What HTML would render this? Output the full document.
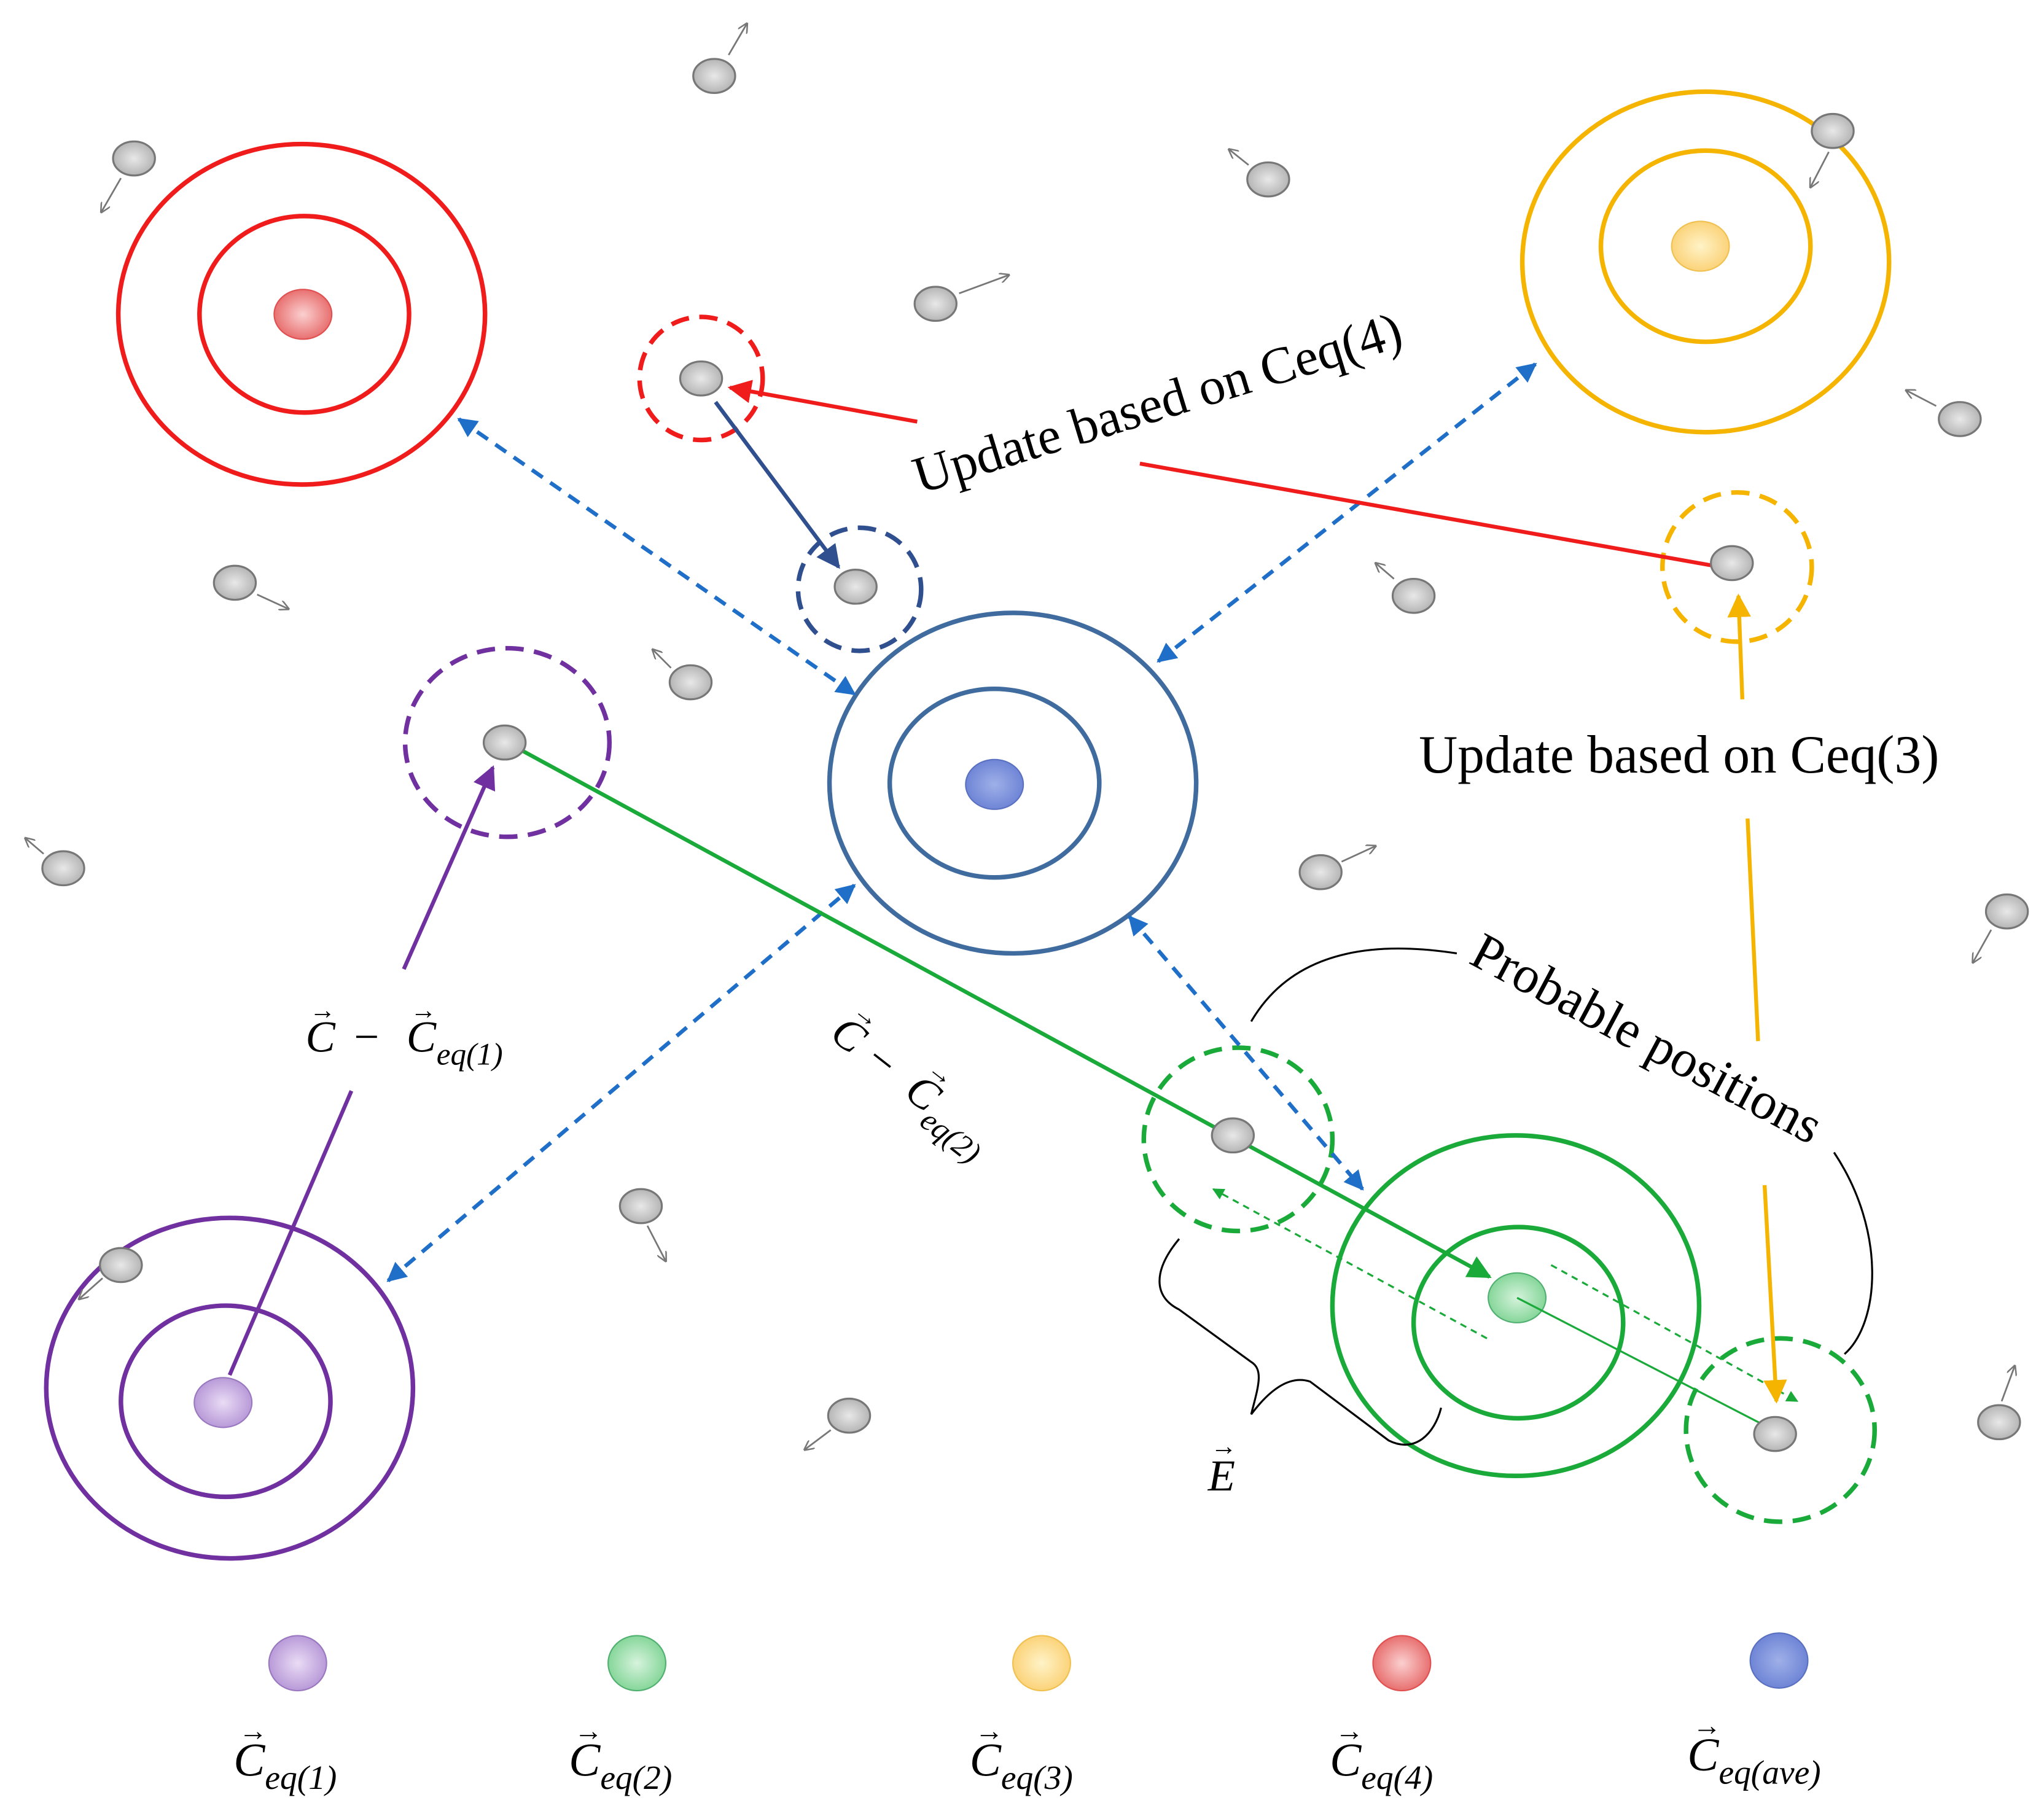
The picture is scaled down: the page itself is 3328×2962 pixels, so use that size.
<!DOCTYPE html>
<html><head><meta charset="utf-8"><style>
html,body{margin:0;padding:0;background:#fff}
svg{display:block}
text{font-family:"Liberation Serif",serif}
</style></head><body>
<svg width="3328" height="2962" viewBox="0 0 1560 1389" xmlns="http://www.w3.org/2000/svg">
<defs>
<radialGradient id="gg"><stop offset="0" stop-color="#e8e8e8"/><stop offset="1" stop-color="#b5b5b5"/></radialGradient>
<radialGradient id="rg"><stop offset="0" stop-color="#fbd0d0"/><stop offset="1" stop-color="#e87070"/></radialGradient>
<radialGradient id="yg"><stop offset="0" stop-color="#fff3c8"/><stop offset="1" stop-color="#fbd37a"/></radialGradient>
<radialGradient id="bg"><stop offset="0" stop-color="#9fb0e8"/><stop offset="1" stop-color="#6f85d6"/></radialGradient>
<radialGradient id="pg"><stop offset="0" stop-color="#eadcf5"/><stop offset="1" stop-color="#b89ad8"/></radialGradient>
<radialGradient id="ng"><stop offset="0" stop-color="#d6f3dc"/><stop offset="1" stop-color="#86d69a"/></radialGradient>
<marker id="ab" viewBox="0 0 10 10" refX="9" refY="5" markerWidth="5" markerHeight="5" orient="auto-start-reverse"><path d="M0,0L10,5L0,10z" fill="#1f6fc8"/></marker>
<marker id="ar" viewBox="0 0 10 10" refX="9" refY="5" markerWidth="6" markerHeight="6" orient="auto"><path d="M0,0L10,5L0,10z" fill="#f01c1c"/></marker>
<marker id="an" viewBox="0 0 10 10" refX="9" refY="5" markerWidth="6" markerHeight="6" orient="auto"><path d="M0,0L10,5L0,10z" fill="#2f4f8f"/></marker>
<marker id="ap" viewBox="0 0 10 10" refX="9" refY="5" markerWidth="6" markerHeight="6" orient="auto"><path d="M0,0L10,5L0,10z" fill="#7030a0"/></marker>
<marker id="ae" viewBox="0 0 10 10" refX="9" refY="5" markerWidth="6" markerHeight="6" orient="auto-start-reverse"><path d="M0,0L10,5L0,10z" fill="#1aaa3a"/></marker>
<marker id="ay" viewBox="0 0 10 10" refX="9" refY="5" markerWidth="6" markerHeight="6" orient="auto"><path d="M0,0L10,5L0,10z" fill="#f5b400"/></marker>
<marker id="ak" viewBox="0 0 10 10" refX="9" refY="5" markerWidth="6" markerHeight="6" orient="auto"><path d="M0,0L10,5L0,10" fill="none" stroke="#777" stroke-width="1.5"/></marker>
</defs>

<g fill="none" stroke-width="3.5">
<ellipse cx="230" cy="240" rx="140" ry="130" stroke="#f01c1c"/>
<ellipse cx="232" cy="240" rx="80" ry="75" stroke="#f01c1c"/>
<ellipse cx="1302" cy="200" rx="140" ry="130" stroke="#f5b400"/>
<ellipse cx="1302" cy="188" rx="80" ry="73" stroke="#f5b400"/>
<ellipse cx="773" cy="598" rx="140" ry="130" stroke="#3f6b9f"/>
<ellipse cx="759" cy="598" rx="80" ry="72" stroke="#3f6b9f"/>
<ellipse cx="175" cy="1060" rx="140" ry="130" stroke="#7030a0"/>
<ellipse cx="172" cy="1070" rx="80" ry="73" stroke="#7030a0"/>
<ellipse cx="1157" cy="997" rx="140" ry="130" stroke="#1aaa3a"/>
<ellipse cx="1159" cy="1010" rx="80" ry="73" stroke="#1aaa3a"/>
</g>
<g stroke-width="1">
<ellipse cx="231" cy="240" rx="22" ry="19" fill="url(#rg)" stroke="#e05050"/>
<ellipse cx="1298" cy="188" rx="22" ry="19" fill="url(#yg)" stroke="#f0c050"/>
<ellipse cx="759" cy="599" rx="22" ry="19" fill="url(#bg)" stroke="#5a70c0"/>
<ellipse cx="170" cy="1071" rx="22" ry="19" fill="url(#pg)" stroke="#9a78c0"/>
<ellipse cx="1158" cy="991" rx="22" ry="19" fill="url(#ng)" stroke="#50b070"/>
</g>

<g fill="none" stroke-width="3.5" stroke-dasharray="14,8">
<circle cx="535" cy="289" r="47" stroke="#f01c1c"/>
<circle cx="656" cy="450" r="47" stroke="#2f4f8f"/>
<ellipse cx="387" cy="567" rx="78" ry="72" stroke="#7030a0"/>
<circle cx="1326" cy="433" r="57" stroke="#f5b400"/>
<ellipse cx="945" cy="870" rx="72" ry="70" stroke="#1aaa3a"/>
<ellipse cx="1359" cy="1092" rx="72" ry="70" stroke="#1aaa3a"/>
</g>

<g stroke="#1f6fc8" stroke-width="3" stroke-dasharray="10,7" marker-start="url(#ab)" marker-end="url(#ab)">
<line x1="350" y1="320" x2="652" y2="530"/>
<line x1="1172" y1="278" x2="884" y2="505"/>
<line x1="296" y1="978" x2="652" y2="676"/>
<line x1="862" y1="700" x2="1040" y2="908"/>
</g>

<line x1="700" y1="322" x2="557" y2="296" stroke="#f01c1c" stroke-width="3" marker-end="url(#ar)"/>
<line x1="870" y1="354" x2="1308" y2="432" stroke="#f01c1c" stroke-width="3"/>
<line x1="546" y1="307" x2="640" y2="433" stroke="#2f4f8f" stroke-width="3" marker-end="url(#an)"/>
<line x1="175" y1="1050" x2="268" y2="833" stroke="#7030a0" stroke-width="3"/>
<line x1="308" y1="740" x2="376" y2="586" stroke="#7030a0" stroke-width="3" marker-end="url(#ap)"/>
<line x1="387" y1="567" x2="1137" y2="975" stroke="#1aaa3a" stroke-width="3" marker-end="url(#ae)"/>
<line x1="1158" y1="991" x2="1350" y2="1090" stroke="#1aaa3a" stroke-width="1.5"/>
<line x1="1135" y1="1022" x2="926" y2="908" stroke="#1aaa3a" stroke-width="1.5" stroke-dasharray="5,4" marker-end="url(#ae)"/>
<line x1="1184" y1="966" x2="1372" y2="1070" stroke="#1aaa3a" stroke-width="1.5" stroke-dasharray="5,4" marker-end="url(#ae)"/>
<line x1="1330" y1="534" x2="1327" y2="455" stroke="#f5b400" stroke-width="3" marker-end="url(#ay)"/>
<line x1="1334" y1="625" x2="1342" y2="795" stroke="#f5b400" stroke-width="3"/>
<line x1="1347" y1="905" x2="1356" y2="1070" stroke="#f5b400" stroke-width="3" marker-end="url(#ay)"/>

<path d="M955,780 C990,720 1060,720 1112,728" fill="none" stroke="#000" stroke-width="1.5"/>
<path d="M1400,880 C1440,940 1435,1010 1408,1034" fill="none" stroke="#000" stroke-width="1.5"/>
<path d="M900,946 C880,970 880,990 900,1000 L955,1040 C965,1046 960,1060 955,1080 C970,1060 985,1050 1000,1055 L1060,1100 C1080,1110 1095,1095 1100,1075" fill="none" stroke="#000" stroke-width="1.5"/>

<g fill="url(#gg)" stroke="#777" stroke-width="1.5">
<ellipse cx="545" cy="58" rx="16" ry="13"/>
<ellipse cx="102" cy="121" rx="16" ry="13"/>
<ellipse cx="968" cy="137" rx="16" ry="13"/>
<ellipse cx="1399" cy="100" rx="16" ry="13"/>
<ellipse cx="714" cy="232" rx="16" ry="13"/>
<ellipse cx="1496" cy="320" rx="16" ry="13"/>
<ellipse cx="535" cy="289" rx="16" ry="13"/>
<ellipse cx="179" cy="445" rx="16" ry="13"/>
<ellipse cx="653" cy="448" rx="16" ry="13"/>
<ellipse cx="1079" cy="455" rx="16" ry="13"/>
<ellipse cx="1322" cy="430" rx="16" ry="13"/>
<ellipse cx="527" cy="521" rx="16" ry="13"/>
<ellipse cx="385" cy="567" rx="16" ry="13"/>
<ellipse cx="48" cy="663" rx="16" ry="13"/>
<ellipse cx="1008" cy="666" rx="16" ry="13"/>
<ellipse cx="1532" cy="696" rx="16" ry="13"/>
<ellipse cx="941" cy="867" rx="16" ry="13"/>
<ellipse cx="489" cy="921" rx="16" ry="13"/>
<ellipse cx="92" cy="966" rx="16" ry="13"/>
<ellipse cx="648" cy="1081" rx="16" ry="13"/>
<ellipse cx="1526" cy="1086" rx="16" ry="13"/>
<ellipse cx="1355" cy="1095" rx="16" ry="13"/>
</g>
<g stroke="#777" stroke-width="1.3" marker-end="url(#ak)">
<line x1="556" y1="42" x2="570" y2="18"/>
<line x1="92" y1="136" x2="77" y2="162"/>
<line x1="953" y1="126" x2="938" y2="114"/>
<line x1="1396" y1="116" x2="1382" y2="143"/>
<line x1="732" y1="224" x2="770" y2="210"/>
<line x1="1478" y1="310" x2="1455" y2="298"/>
<line x1="196" y1="454" x2="220" y2="465"/>
<line x1="1064" y1="442" x2="1050" y2="430"/>
<line x1="512" y1="510" x2="498" y2="496"/>
<line x1="33" y1="652" x2="19" y2="640"/>
<line x1="1024" y1="658" x2="1050" y2="646"/>
<line x1="1520" y1="710" x2="1506" y2="735"/>
<line x1="494" y1="936" x2="508" y2="963"/>
<line x1="78" y1="976" x2="60" y2="992"/>
<line x1="634" y1="1092" x2="614" y2="1107"/>
<line x1="1528" y1="1070" x2="1538" y2="1043"/>
</g>

<text font-size="40" transform="translate(702,377) rotate(-17)">Update based on Ceq(4)</text>
<text x="1083" y="590" font-size="41">Update based on Ceq(3)</text>
<text font-size="40" transform="translate(1120,735) rotate(28)">Probable positions</text>

<g font-size="34" font-style="italic">
<text x="233" y="803">C</text><text x="236" y="778" font-size="20" font-style="normal">→</text>
<text x="270" y="803" font-style="normal">−</text>
<text x="310" y="803">C</text><text x="313" y="778" font-size="20" font-style="normal">→</text>
<text x="333" y="813" font-size="24">eq(1)</text>
</g>
<g font-size="34" font-style="italic" transform="translate(632,792) rotate(38)">
<text x="0" y="0">C</text><text x="3" y="-25" font-size="20" font-style="normal">→</text>
<text x="34" y="0" font-style="normal">−</text>
<text x="72" y="0">C</text><text x="75" y="-25" font-size="20" font-style="normal">→</text>
<text x="95" y="10" font-size="24">eq(2)</text>
</g>
<text x="922" y="1138" font-size="34" font-style="italic">E</text>
<text x="924" y="1111" font-size="20">→</text>

<g stroke-width="1">
<ellipse cx="227" cy="1270" rx="22" ry="21" fill="url(#pg)" stroke="#9a78c0"/>
<ellipse cx="486" cy="1270" rx="22" ry="21" fill="url(#ng)" stroke="#50b070"/>
<ellipse cx="795" cy="1270" rx="22" ry="21" fill="url(#yg)" stroke="#f0c050"/>
<ellipse cx="1070" cy="1270" rx="22" ry="21" fill="url(#rg)" stroke="#e05050"/>
<ellipse cx="1358" cy="1268" rx="22" ry="21" fill="url(#bg)" stroke="#5a70c0"/>
</g>
<g font-size="36" font-style="italic">
<text x="178" y="1356">C</text><text x="182" y="1329" font-size="22" font-style="normal">→</text><text x="202" y="1366" font-size="26">eq(1)</text>
<text x="434" y="1356">C</text><text x="438" y="1329" font-size="22" font-style="normal">→</text><text x="458" y="1366" font-size="26">eq(2)</text>
<text x="740" y="1356">C</text><text x="744" y="1329" font-size="22" font-style="normal">→</text><text x="764" y="1366" font-size="26">eq(3)</text>
<text x="1015" y="1356">C</text><text x="1019" y="1329" font-size="22" font-style="normal">→</text><text x="1039" y="1366" font-size="26">eq(4)</text>
<text x="1288" y="1352">C</text><text x="1292" y="1325" font-size="22" font-style="normal">→</text><text x="1312" y="1362" font-size="26">eq(ave)</text>
</g>
</svg>
</body></html>
